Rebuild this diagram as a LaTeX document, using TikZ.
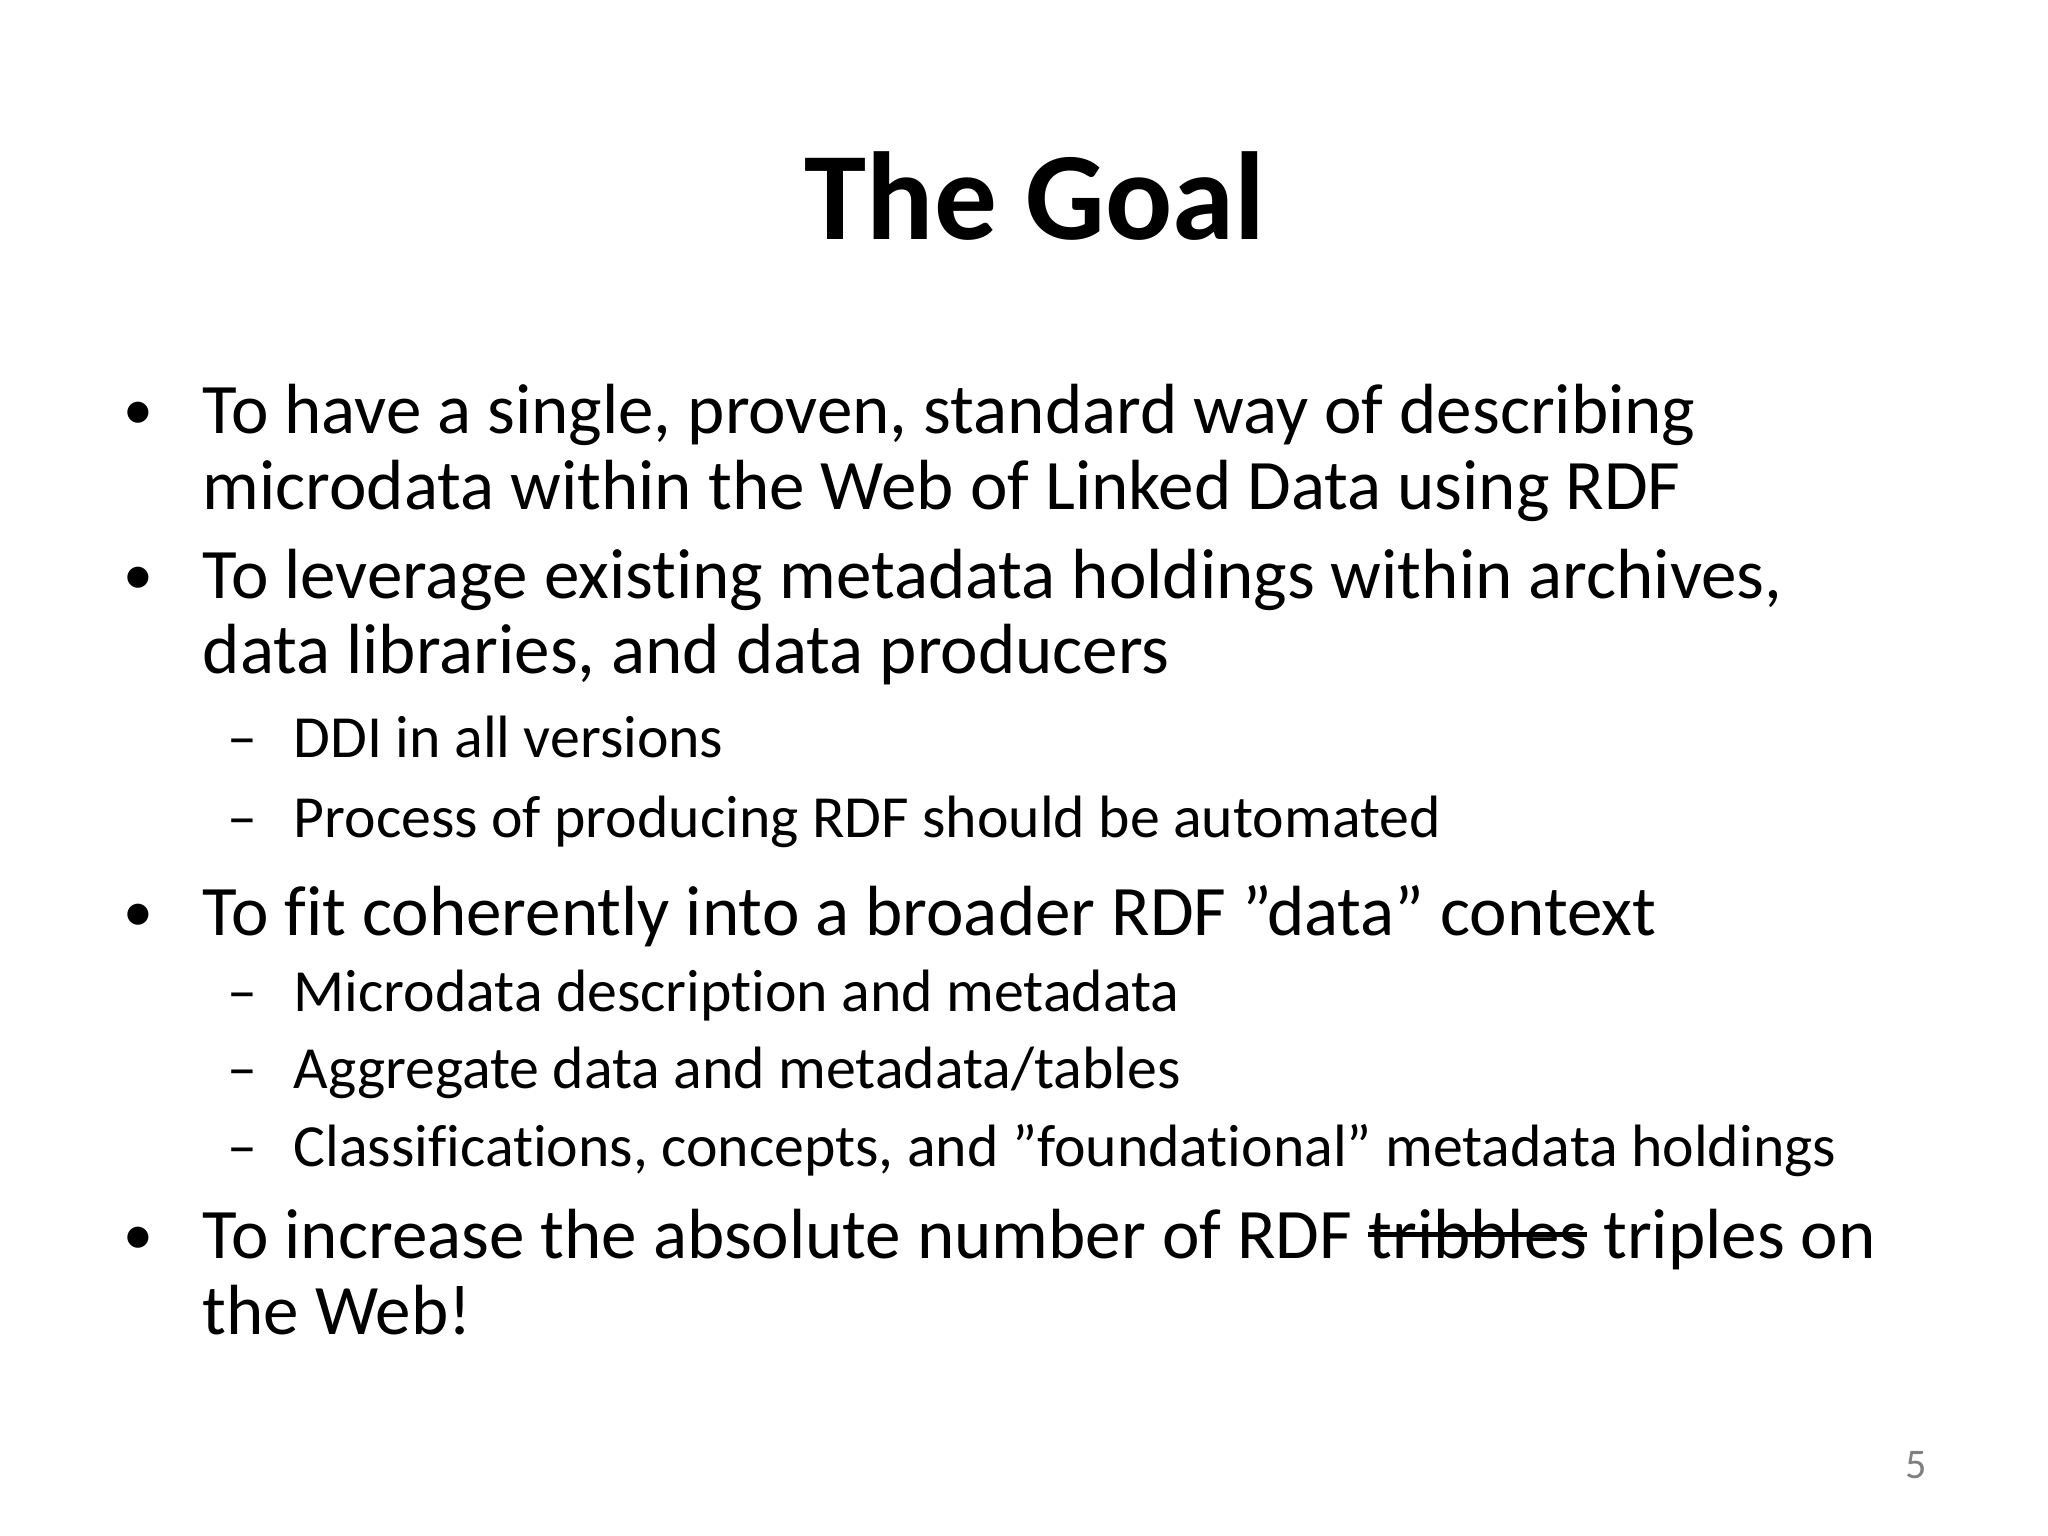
\documentclass[tikz,border=0pt]{standalone}
\usepackage{fontspec}
\setmainfont{Carlito}[Ligatures=NoCommon]
\newcommand\strk[1]{\setbox0\hbox{#1}\rlap{\rule[0.3em]{\wd0}{0.06em}}\box0}
\begin{document}
\begin{tikzpicture}[x=0.01cm,y=-0.01cm,
  big/.style={anchor=base west,inner sep=0,font=\fontsize{20.2}{24}\selectfont},
  small/.style={anchor=base west,inner sep=0,font=\fontsize{17}{20}\selectfont},
  dot/.style={anchor=base,inner sep=0,font=\fontsize{17}{20}\selectfont}]
\useasboundingbox (0,0) rectangle (2048,1536);
\node[anchor=base,inner sep=0,font=\fontsize{35.6}{42}\selectfont\bfseries] (title) at (1035,239) {The Goal};
\foreach \y/\t [count=\i] in {433/{To have a single, proven, standard way of describing},509/{microdata within the Web of Linked Data using RDF},598/{To leverage existing metadata holdings within archives,},673/{data libraries, and data producers},935/{To fit coherently into a broader RDF ”data” context},1334/{the Web!}}
  \node[big] (b\i) at (202,\y) {\t};
\node[big] (b7) at (202,1258) {To increase the absolute number of RDF \strk{tribbles}\ triples on};
\foreach \y in {433,598,935,1258}
  \node[dot] at (138,\y-4) {•};
\foreach \y/\t [count=\i] in {757/{DDI in all versions},837/{Process of producing RDF should be automated},1011/{Microdata description and metadata},1088/{Aggregate data and metadata/tables},1166/{Classifications, concepts, and ”foundational” metadata holdings}}{
  \node[small] (s\i) at (293,\y) {\t};
  \node[small] at (227,\y) {–};}
\node[anchor=base,inner sep=0,font=\fontsize{12}{14}\selectfont,text=gray] (pg) at (1916,1478) {5};
\end{tikzpicture}
\end{document}
